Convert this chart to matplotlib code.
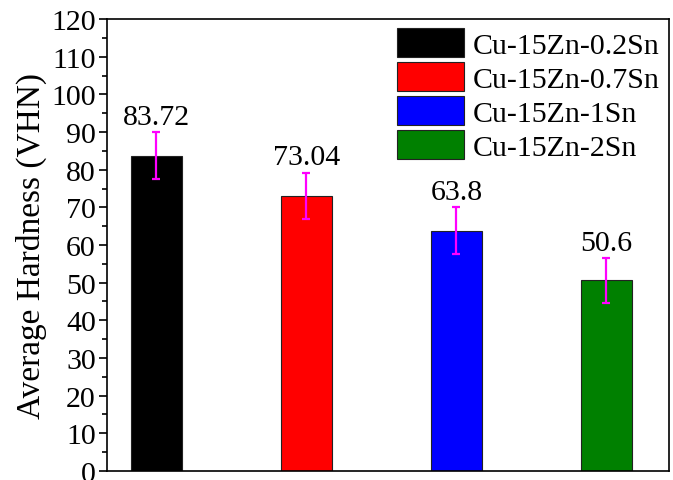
import matplotlib.pyplot as plt
import numpy as np

plt.rcParams['font.family'] = ['Liberation Serif', 'DejaVu Serif']

alloys = ['Cu-15Zn-0.2Sn', 'Cu-15Zn-0.7Sn', 'Cu-15Zn-1Sn', 'Cu-15Zn-2Sn']
hardness = [83.72, 73.04, 63.8, 50.6]
errors = [6.2, 6.2, 6.3, 6.0]
colors = ['black', 'red', 'blue', 'green']

FS = 21.5

fig = plt.figure(figsize=(6.73, 4.81), dpi=100)
ax = fig.add_axes([0.159, 0.019, 0.835, 0.939])

x = np.arange(1, len(alloys) + 1)
for i in range(len(alloys)):
    ax.bar(x[i], hardness[i], width=0.34, color=colors[i], edgecolor='#222222',
           linewidth=0.8, label=alloys[i], zorder=2)
    ax.errorbar(x[i], hardness[i], yerr=errors[i], fmt='none', ecolor='magenta',
                elinewidth=1.6, capsize=3, capthick=1.6, zorder=3)
    ax.text(x[i], hardness[i] + errors[i] + 0.6, f'{hardness[i]:g}',
            ha='center', va='bottom', fontsize=FS)

ax.set_xlim(0.67, 4.417)
ax.set_ylim(0, 120)
ax.set_yticks(np.arange(0, 121, 10))
ax.set_yticks(np.arange(5, 120, 10), minor=True)
ax.set_xticks([])
ax.tick_params(axis='y', which='major', direction='out', length=6, width=1.2,
               labelsize=FS, pad=2)
ax.tick_params(axis='y', which='minor', direction='out', length=3.5, width=1.2)
for s in ax.spines.values():
    s.set_linewidth(1.2)
ax.set_ylabel('Average Hardness (VHN)', fontsize=24, labelpad=3)

ax.legend(loc='upper right', fontsize=FS, frameon=False,
          borderaxespad=0.0, handlelength=2.25, handleheight=1.1,
          labelspacing=0.12, handletextpad=0.3, borderpad=0.3)

fig.savefig('out.png', dpi=100)
